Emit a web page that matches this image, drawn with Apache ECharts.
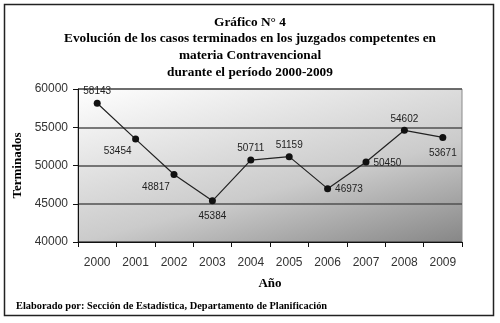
<!DOCTYPE html>
<html>
<head>
<meta charset="utf-8">
<script src="https://cdn.jsdelivr.net/npm/echarts@6/dist/echarts.min.js"></script>
<style>
  html, body { margin: 0; padding: 0; background: #fff; }
  #chart { width: 500px; height: 323px; }
</style>
</head>
<body>
<div id="chart"></div>
<script>
// Casos terminados por año, materia Contravencional
const years = ['2000', '2001', '2002', '2003', '2004', '2005', '2006', '2007', '2008', '2009'];
const terminados = [58143, 53454, 48817, 45384, 50711, 51159, 46973, 50450, 54602, 53671];
// where each value label sits relative to its point
const labelPlacement = ['top', 'left-below', 'left-below', 'bottom', 'top', 'top', 'right', 'right', 'top', 'bottom'];
const titleLines = [
  'Gráfico N° 4',
  'Evolución de los casos terminados en los juzgados competentes en',
  'materia Contravencional',
  'durante el período 2000-2009'
];

const serif = '"Liberation Serif", "Times New Roman", serif';
const sans = '"Liberation Sans", Arial, sans-serif';

function labelFor(place) {
  switch (place) {
    case 'top': return { position: 'top', distance: 3 };
    case 'bottom': return { position: 'bottom', distance: 7 };
    case 'right': return { position: 'right', distance: 4, offset: [0, 1] };
    case 'left-below': return { position: 'bottom', distance: 4, offset: [-18, 0] };
  }
}

const seriesData = terminados.map((v, i) => ({ value: v, label: labelFor(labelPlacement[i]) }));

const chart = echarts.init(document.getElementById('chart'), null, { renderer: 'canvas' });
chart.setOption({
  animation: false,
  graphic: [
    {
      type: 'rect',
      shape: { x: 4.5, y: 4.5, width: 489, height: 311 },
      style: { fill: null, stroke: '#222', lineWidth: 1.5 },
      z: 100
    },
    {
      type: 'text',
      x: 250,
      y: 14,
      style: {
        text: titleLines.join('\n'),
        font: 'bold 13.3px ' + serif,
        lineHeight: 16.7,
        align: 'center',
        verticalAlign: 'top',
        fill: '#000'
      }
    },
    {
      type: 'text',
      x: 16,
      y: 301,
      style: {
        text: 'Elaborado por: Sección de Estadística, Departamento de Planificación',
        font: 'bold 10.4px ' + serif,
        fill: '#000'
      }
    }
  ],
  grid: {
    left: 78, right: 38, top: 89, bottom: 81,
    show: true,
    borderColor: '#8a8a8a',
    borderWidth: 1,
    backgroundColor: {
      type: 'linear', x: 0, y: 0, x2: 0.165, y2: 1.556,
      colorStops: [
        { offset: 0, color: '#ffffff' },
        { offset: 0.4, color: '#dcdcdc' },
        { offset: 0.6, color: '#cbcbcb' },
        { offset: 1, color: '#868686' }
      ]
    }
  },
  xAxis: {
    type: 'category',
    data: years,
    boundaryGap: true,
    name: 'Año',
    nameLocation: 'middle',
    nameGap: 35,
    nameTextStyle: { fontFamily: serif, fontWeight: 'bold', fontSize: 13, color: '#000' },
    axisLine: { lineStyle: { color: '#111', width: 1 } },
    axisTick: { show: true, length: 5, alignWithLabel: false, lineStyle: { color: '#111' } },
    axisLabel: { fontFamily: sans, fontSize: 12, color: '#333', margin: 15 },
    splitLine: { show: false }
  },
  yAxis: {
    type: 'value',
    min: 40000,
    max: 60000,
    interval: 5000,
    name: 'Terminados',
    nameLocation: 'middle',
    nameGap: 51,
    nameRotate: 90,
    nameTextStyle: { fontFamily: serif, fontWeight: 'bold', fontSize: 13, color: '#000' },
    axisLine: { show: true, lineStyle: { color: '#111', width: 1 } },
    axisTick: { show: true, length: 5, lineStyle: { color: '#111' } },
    axisLabel: { fontFamily: sans, fontSize: 12, color: '#333', margin: 10, formatter: v => String(v) },
    splitLine: { show: true, lineStyle: { color: '#505050', width: 1.5 } }
  },
  series: [{
    type: 'line',
    data: seriesData,
    symbol: 'circle',
    symbolSize: 7,
    itemStyle: { color: '#111' },
    lineStyle: { color: '#222', width: 1.2 },
    label: { show: true, fontFamily: sans, fontSize: 10, color: '#222', formatter: p => String(p.value) },
    z: 5
  }]
});
</script>
</body>
</html>
